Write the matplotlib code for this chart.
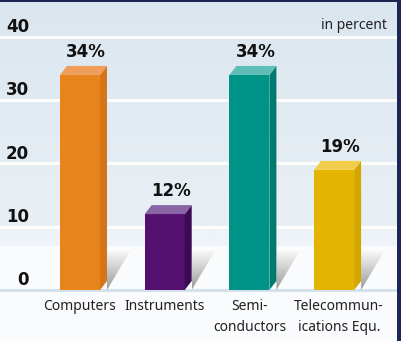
import matplotlib
matplotlib.use("Agg")
import matplotlib.pyplot as plt
import numpy as np
from matplotlib.patches import Polygon, Rectangle

# data
categories = ["Computers", "Instruments", "Semi-\nconductors", "Telecommun-\nications Equ."]
values = [34, 12, 34, 19]
front_colors = ["#e8841c", "#53106f", "#009488", "#e3b500"]
top_colors = ["#ef9e5a", "#8864a5", "#5fbfb7", "#f2cd4c"]
side_colors = ["#d47518", "#3d0b54", "#007a6f", "#d2a500"]
yticks = [0, 10, 20, 30, 40]

plt.rcParams["font.family"] = ["Noto Sans", "DejaVu Sans"]
bold_font = ["DejaVu Sans"]

fig = plt.figure(figsize=(4.02, 3.41), dpi=100)
ax = fig.add_axes([0, 0, 1, 1])

# pixel -> data scale
px_y = 6.325          # pixels per unit on y
px_x = 84.7           # pixels per category step
x0_px = 80            # first bar centre in pixels
ax.set_xlim(-x0_px / px_x, (402 - x0_px) / px_x)
ax.set_ylim(-51 / px_y, 290 / px_y)
ax.axis("off")

xl, xr = ax.get_xlim()
yl, yr = ax.get_ylim()

# background: light blue gradient above, pale band, white bottom
bg = np.ones((341, 1, 3))
top_c = np.array([0xdb, 0xe6, 0xef]) / 255
mid_c = np.array([0xe9, 0xf0, 0xf5]) / 255
for i in range(341):
    if i < 227:
        t = i / 227
        bg[i, 0] = top_c * (1 - t) + mid_c * t
    elif i < 246:
        bg[i, 0] = np.array([0xee, 0xf4, 0xf9]) / 255
    else:
        bg[i, 0] = np.array([0xf9, 0xfb, 0xfd]) / 255
ax.imshow(bg, extent=(xl, xr, yl, yr), aspect="auto", zorder=0)

# grid lines
for t in yticks[1:]:
    ax.plot([xl, xr], [t, t], color="white", lw=2, zorder=1)
ax.plot([xl, xr], [0, 0], color="#d3dfea", lw=2, zorder=1)

for t in yticks:
    ax.text(29 / px_x + xl, t + 0.15, str(t), ha="right", va="bottom",
            fontsize=12, fontweight="bold", family=bold_font, color="#111111", zorder=5)

ax.text(387 / px_x + xl, 40.6, "in percent", ha="right", va="bottom",
        fontsize=10, color="#222222", zorder=5)

w = 40 / px_x
dx = 7 / px_x
dy = 9 / px_y
sh_w = 25 / px_x
sh_h = 42 / px_y

shade = np.linspace(0.6, 1.0, 64).reshape(-1, 1)
shade_img = np.dstack([shade, shade, shade])

for i, v in enumerate(values):
    left = i - w / 2
    right = i + w / 2
    # shadow triangle with vertical gradient
    tri = Polygon([(right + dx, 0), (right + dx + sh_w, sh_h), (right + dx, sh_h)],
                  closed=True, facecolor="none", edgecolor="none")
    ax.add_patch(tri)
    im = ax.imshow(shade_img, extent=(right + dx, right + dx + sh_w, 0, sh_h),
                   origin="lower", aspect="auto", zorder=1.5)
    im.set_clip_path(tri)
    # front face
    ax.add_patch(Rectangle((left, 0), w, v, facecolor=front_colors[i],
                           edgecolor="none", zorder=3))
    # side face
    ax.add_patch(Polygon([(right, 0), (right + dx, dy), (right + dx, v + dy), (right, v)],
                         closed=True, facecolor=side_colors[i], edgecolor="none", zorder=3))
    # top face
    ax.add_patch(Polygon([(left, v), (right, v), (right + dx, v + dy), (left + dx, v + dy)],
                         closed=True, facecolor=top_colors[i], edgecolor="none", zorder=3))
    ax.text(i + dx / 2 + 0.03, v + dy + 0.8, f"{v}%", ha="center", va="bottom",
            fontsize=12, fontweight="bold", family=bold_font, color="#111111", zorder=5)
    ax.text(i if i < 3 else i + 0.06, -1.45, categories[i], ha="center", va="top",
            fontsize=10, color="#222222", linespacing=1.55, zorder=5)

# navy frame (top and right)
fig.add_artist(Rectangle((0, 1 - 2 / 341), 1, 2 / 341, transform=fig.transFigure,
                         facecolor="#1c2754", edgecolor="none"))
fig.add_artist(Rectangle((1 - 5 / 402, 0), 5 / 402, 1, transform=fig.transFigure,
                         facecolor="#1c2754", edgecolor="none"))

fig.savefig("out.png", dpi=100)
